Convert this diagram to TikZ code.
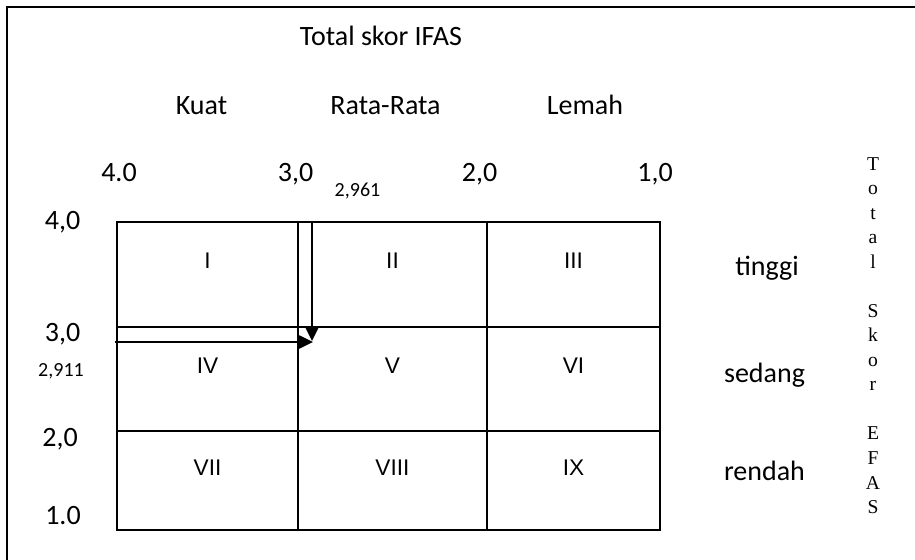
\documentclass[tikz,border=0pt]{standalone}
\usepackage{fontspec}
\setmainfont{Carlito}
\newfontfamily\romfont{Liberation Sans}
\newfontfamily\vserif{Liberation Serif}
\usetikzlibrary{arrows.meta}
\begin{document}
\begin{tikzpicture}[x=0.75pt,y=-0.75pt,
  lbl/.style={font=\fontsize{21}{25}\selectfont, inner sep=0pt, anchor=base},
  small/.style={font=\fontsize{15}{18}\selectfont, inner sep=0pt, anchor=base},
  rom/.style={font=\romfont\fontsize{17}{20}\selectfont, inner sep=0pt, anchor=base},
  vtext/.style={font=\vserif\fontsize{14.7}{18.4}\selectfont, inner sep=0pt, anchor=north, align=center},
  gridline/.style={line width=1.1pt},
  arr/.style={line width=1.1pt, -{Triangle[length=11pt,width=10.5pt]}},
  frameline/.style={line width=1.5pt}]
\useasboundingbox (0,0) rectangle (915,560);
% frame (only top and left edges visible)
\coordinate (fb) at (7,560);
\coordinate (fc) at (7,7);
\coordinate (fr) at (915,7);
\draw[frameline] (fb) -- (fc) -- (fr);
% grid corners
\coordinate (gtl) at (117,222);
\coordinate (gbr) at (660,530);
\draw[gridline] (gtl) rectangle (gbr);
\coordinate (c1t) at (298,222); \coordinate (c1b) at (298,530);
\coordinate (c2t) at (487,222); \coordinate (c2b) at (487,530);
\coordinate (r1l) at (117,327); \coordinate (r1r) at (660,327);
\coordinate (r2l) at (117,431); \coordinate (r2r) at (660,431);
\draw[gridline] (c1t) -- (c1b);
\draw[gridline] (c2t) -- (c2b);
\draw[gridline] (r1l) -- (r1r);
\draw[gridline] (r2l) -- (r2r);
% arrows
\coordinate (vs) at (312,222);
\coordinate (ve) at (312,341);
\coordinate (hs) at (115,342);
\coordinate (he) at (313,342);
\draw[arr] (vs) -- (ve);
\draw[arr] (hs) -- (he);
% titles
\node[lbl] (title) at (381,46) {Total skor IFAS};
\node[lbl] (kuat) at (201.5,115) {Kuat};
\node[lbl] (rata) at (385.5,115) {Rata-Rata};
\node[lbl] (lemah) at (585,115) {Lemah};
% top scale
\node[lbl] (t4) at (119,181) {4.0};
\node[lbl] (t3) at (295.5,181) {3,0};
\node[small] (t2961) at (357.5,196) {2,961};
\node[lbl] (t2) at (479.5,181) {2,0};
\node[lbl] (t1) at (655,181) {1,0};
% left scale
\node[lbl] (l4) at (62.5,229) {4,0};
\node[lbl] (l3) at (62.5,341) {3,0};
\node[small] (l2911) at (61,376) {2,911};
\node[lbl] (l2) at (60,446) {2,0};
\node[lbl] (l1) at (63,524) {1.0};
% cells
\node[rom] (n1) at (207.5,268) {I};
\node[rom] (n2) at (392.5,268) {II};
\node[rom] (n3) at (573.5,268) {III};
\node[rom] (n4) at (207.5,373) {IV};
\node[rom] (n5) at (392.5,373) {V};
\node[rom] (n6) at (573.5,373) {VI};
\node[rom] (n7) at (207.5,475) {VII};
\node[rom] (n8) at (392.5,475) {VIII};
\node[rom] (n9) at (573.5,475) {IX};
% right labels
\node[lbl] (tinggi) at (767,275) {tinggi};
\node[lbl] (sedang) at (764.5,382) {sedang};
\node[lbl] (rendah) at (764.5,480) {rendah};
% vertical text
\node[vtext] (efas) at (873,157) {T\\o\\t\\a\\l\\\strut\\S\\k\\o\\r\\\strut\\E\\F\\A\\S};
\end{tikzpicture}
\end{document}
